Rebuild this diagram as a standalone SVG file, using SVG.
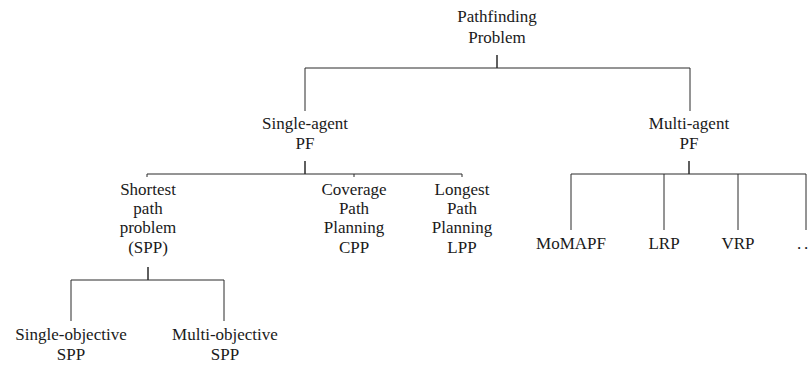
<svg xmlns="http://www.w3.org/2000/svg" width="811" height="367" viewBox="0 0 811 367">
  <style>
    text { font-family: "Liberation Serif", "Times New Roman", serif; font-size: 17px; fill: #1a1a1a; text-anchor: middle; }
    .edge { stroke: #2a2a2a; stroke-width: 1; fill: none; }
    .stem { stroke: #2a2a2a; stroke-width: 1.5; fill: none; }
  </style>
  <rect width="811" height="367" fill="#ffffff"/>

  <g id="connectors">
    <!-- root to agent classes -->
    <line class="stem" x1="497" y1="55" x2="497" y2="68"/>
    <path class="edge" d="M305,111 V68 H690 V111"/>
    <!-- single-agent PF to its variants -->
    <line class="stem" x1="305" y1="161" x2="305" y2="174"/>
    <path class="edge" d="M147,177 V174 H462 V177"/>
    <line class="edge" x1="354" y1="174" x2="354" y2="177"/>
    <!-- multi-agent PF to its variants -->
    <line class="stem" x1="689" y1="161" x2="689" y2="174"/>
    <path class="edge" d="M571,230 V174 H806 V230"/>
    <line class="edge" x1="664" y1="174" x2="664" y2="230"/>
    <line class="edge" x1="738" y1="174" x2="738" y2="230"/>
    <!-- SPP to objective variants -->
    <line class="stem" x1="148" y1="267" x2="148" y2="280"/>
    <path class="edge" d="M71,321 V280 H224 V321"/>
  </g>

  <g id="root">
    <text x="497" y="22">Pathfinding</text>
    <text x="497" y="43">Problem</text>
  </g>

  <g id="single-agent">
    <text x="305" y="129">Single-agent</text>
    <text x="305" y="149">PF</text>
  </g>

  <g id="multi-agent">
    <text x="689" y="129">Multi-agent</text>
    <text x="689" y="149">PF</text>
  </g>

  <g id="spp">
    <text x="148" y="195">Shortest</text>
    <text x="148" y="214">path</text>
    <text x="148" y="233">problem</text>
    <text x="148" y="253">(SPP)</text>
  </g>

  <g id="cpp">
    <text x="354" y="195">Coverage</text>
    <text x="354" y="214">Path</text>
    <text x="354" y="233">Planning</text>
    <text x="354" y="253">CPP</text>
  </g>

  <g id="lpp">
    <text x="462" y="195">Longest</text>
    <text x="462" y="214">Path</text>
    <text x="462" y="233">Planning</text>
    <text x="462" y="253">LPP</text>
  </g>

  <g id="momapf">
    <text x="571" y="249">MoMAPF</text>
  </g>

  <g id="lrp">
    <text x="664" y="249">LRP</text>
  </g>

  <g id="vrp">
    <text x="738" y="249">VRP</text>
  </g>

  <g id="more">
    <text x="797" y="249" style="text-anchor: start;">.<tspan dx="2.75">.</tspan></text>
  </g>

  <g id="single-objective">
    <text x="71" y="340">Single-objective</text>
    <text x="71" y="360">SPP</text>
  </g>

  <g id="multi-objective">
    <text x="225" y="340">Multi-objective</text>
    <text x="225" y="360">SPP</text>
  </g>
</svg>
